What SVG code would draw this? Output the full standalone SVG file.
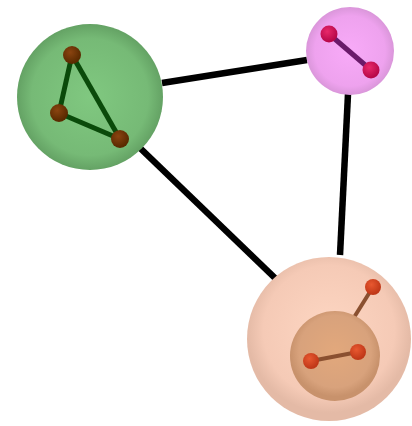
<svg xmlns="http://www.w3.org/2000/svg" width="412" height="426" viewBox="0 0 412 426">
<defs>
<radialGradient id="gGreen" cx="50%" cy="50%" r="50%"><stop offset="0" stop-color="#80c880"/><stop offset="0.8" stop-color="#76ba76"/><stop offset="1" stop-color="#64a264"/></radialGradient>
<radialGradient id="gPink" cx="50%" cy="50%" r="50%"><stop offset="0" stop-color="#f8aaf8"/><stop offset="0.8" stop-color="#eea2ee"/><stop offset="1" stop-color="#da96da"/></radialGradient>
<radialGradient id="gPeach" cx="50%" cy="45%" r="50%"><stop offset="0" stop-color="#fdd6c2"/><stop offset="0.8" stop-color="#f5cab6"/><stop offset="1" stop-color="#e4baa6"/></radialGradient>
<radialGradient id="gInner" cx="50%" cy="45%" r="50%"><stop offset="0" stop-color="#e2a87c"/><stop offset="0.8" stop-color="#d8a27c"/><stop offset="1" stop-color="#c8926c"/></radialGradient>
<radialGradient id="nBrown" cx="40%" cy="35%" r="60%"><stop offset="0" stop-color="#8a4410"/><stop offset="1" stop-color="#5a2a00"/></radialGradient>
<radialGradient id="nCrimson" cx="40%" cy="35%" r="60%"><stop offset="0" stop-color="#e8286a"/><stop offset="1" stop-color="#b8084a"/></radialGradient>
<radialGradient id="nRed" cx="40%" cy="35%" r="60%"><stop offset="0" stop-color="#e85830"/><stop offset="1" stop-color="#c03818"/></radialGradient>
</defs>
<style>
.link{stroke:#000;stroke-width:6.5;fill:none}
.ge{stroke:#0a4a0a;stroke-width:5}
.pe{stroke:#6a1a6a;stroke-width:5}
.oe{stroke:#8a5030;stroke-width:4}
</style>
<g id="connectors">
<line class="link" x1="162" y1="83" x2="307" y2="60"/>
<line class="link" x1="140" y1="148" x2="276" y2="279"/>
<line class="link" x1="348" y1="94" x2="340" y2="255"/>
</g>
<g id="green">
<circle cx="90" cy="97" r="73" fill="url(#gGreen)"/>
<line class="ge" x1="72" y1="55" x2="59" y2="113"/>
<line class="ge" x1="72" y1="55" x2="120" y2="139"/>
<line class="ge" x1="59" y1="113" x2="120" y2="139"/>
<circle cx="72" cy="55" r="9" fill="url(#nBrown)"/>
<circle cx="59" cy="113" r="9" fill="url(#nBrown)"/>
<circle cx="120" cy="139" r="9" fill="url(#nBrown)"/>
</g>
<g id="pink">
<circle cx="350" cy="51" r="44" fill="url(#gPink)"/>
<line class="pe" x1="329" y1="34" x2="371" y2="70"/>
<circle cx="329" cy="34" r="8.5" fill="url(#nCrimson)"/>
<circle cx="371" cy="70" r="8.5" fill="url(#nCrimson)"/>
</g>
<g id="peach">
<circle cx="329" cy="339" r="82" fill="url(#gPeach)"/>
<line class="oe" x1="373" y1="287" x2="353" y2="319"/>
<circle cx="335" cy="356" r="45" fill="url(#gInner)"/>
<line class="oe" x1="311" y1="361" x2="358" y2="352"/>
<circle cx="311" cy="361" r="8" fill="url(#nRed)"/>
<circle cx="358" cy="352" r="8" fill="url(#nRed)"/>
<circle cx="373" cy="287" r="8" fill="url(#nRed)"/>
</g>
</svg>
